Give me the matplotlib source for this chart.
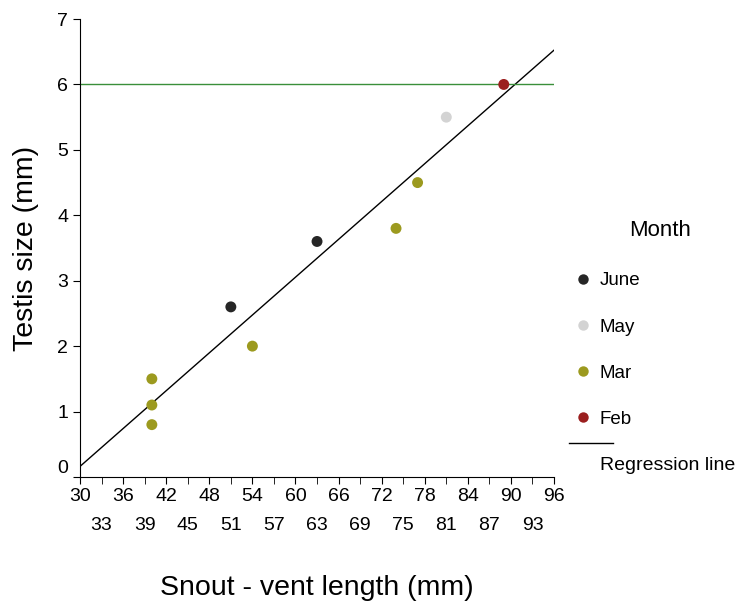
import matplotlib
matplotlib.use("Agg")
import matplotlib.pyplot as plt
from matplotlib.lines import Line2D

plt.rcParams['font.family'] = ['Liberation Sans', 'DejaVu Sans']

# data
months = ['June', 'May', 'Mar', 'Feb']
month_colors = ['#262626', '#d3d3d3', '#9c9a1f', '#9b1f1f']
svl = {
    'June': [51, 63],
    'May': [81],
    'Mar': [40, 40, 40, 54, 74, 77],
    'Feb': [89],
}
testis = {
    'June': [2.6, 3.6],
    'May': [5.5],
    'Mar': [1.5, 1.1, 0.8, 2.0, 3.8, 4.5],
    'Feb': [6.0],
}
reg_slope = 0.0964
reg_intercept = -2.73
threshold = 6.0
x_major = list(range(30, 97, 6))
x_minor = list(range(33, 94, 6))
y_ticks = list(range(0, 8))

fig = plt.figure(figsize=(7.39, 6.04), dpi=100)
ax = fig.add_axes([0.1083, 0.2103, 0.6414, 0.7582])

# regression and threshold lines
x0, x1 = 30, 96
ax.plot([x0, x1], [reg_intercept + reg_slope * x0, reg_intercept + reg_slope * x1],
        color='black', lw=1)
ax.plot([x0, x1], [threshold, threshold], color='#3a8f3a', lw=1)

for m, c in zip(months, month_colors):
    ax.scatter(svl[m], testis[m], s=62, color=c, edgecolors='none', zorder=3)

ax.set_xlim(30, 96)
ax.set_ylim(0, 7)
ax.spines['top'].set_visible(False)
ax.spines['right'].set_visible(False)

ax.set_xticks(x_major)
ax.set_xticks(x_minor, minor=True)
ax.set_xticklabels([str(v) for v in x_major])
ax.set_xticklabels([str(v) for v in x_minor], minor=True)
ax.tick_params(axis='x', which='major', length=5, pad=3, labelsize=14)
ax.tick_params(axis='x', which='minor', length=5, pad=24, labelsize=14)
ax.set_yticks(y_ticks)
ax.set_yticklabels([str(v) for v in y_ticks])
ax.tick_params(axis='y', length=5, labelsize=14)
# SigmaPlot lifts the 0 label off the x axis
ax.get_yticklabels()[0].set_va('bottom')

ax.set_xlabel('Snout - vent length (mm)', fontsize=20.5, labelpad=29)
ax.set_ylabel('Testis size (mm)', fontsize=20.5, labelpad=13)

handles = [Line2D([], [], marker='o', ls='none', color=c, markeredgecolor='none',
                  markersize=7.5) for c in month_colors]
fig.legend(handles, months, loc='upper left',
           bbox_to_anchor=(0.751, 0.577), frameon=False, fontsize=13.5,
           labelspacing=1.55, handletextpad=0.3, handlelength=1.2)
fig.text(0.893, 0.619, 'Month', fontsize=16, ha='center', va='center')

# regression line key: line above its label
fig.add_artist(Line2D([0.770, 0.829], [0.267, 0.267], color='black', lw=1))
fig.text(0.812, 0.230, 'Regression line', fontsize=14, va='center')

fig.savefig('out.png', dpi=100)
